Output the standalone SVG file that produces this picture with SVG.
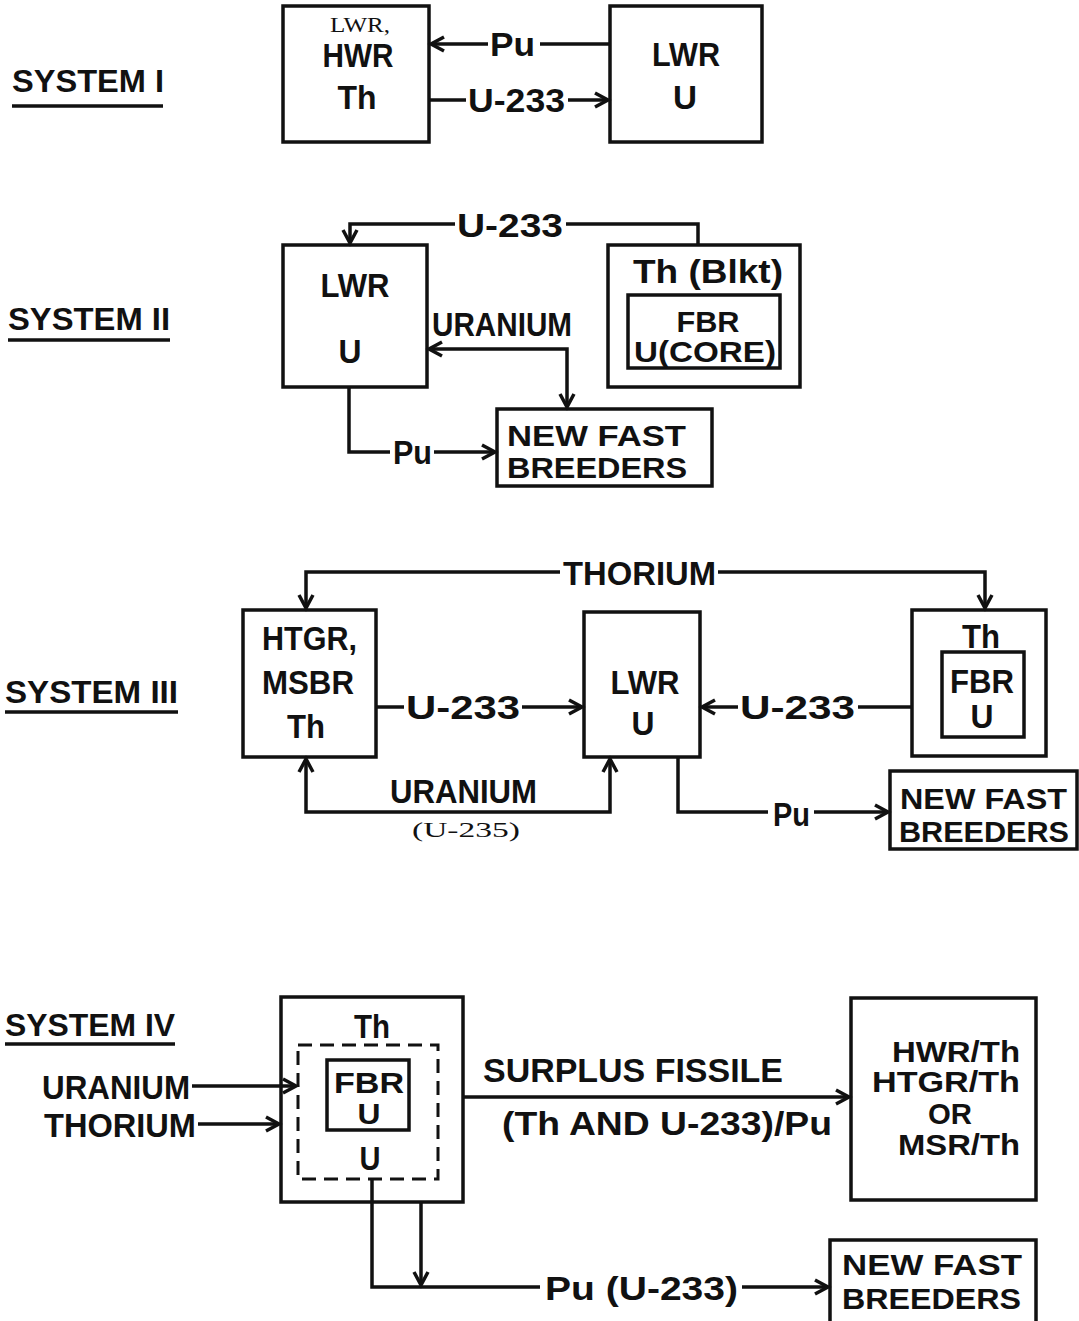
<svg xmlns="http://www.w3.org/2000/svg" width="1079" height="1321" viewBox="0 0 1079 1321">
<defs>
<style>
.b{fill:none;stroke:#111;stroke-width:3.5}
.d{fill:none;stroke:#111;stroke-width:3;stroke-dasharray:14 8}
.c{fill:none;stroke:#111;stroke-width:3.5}
.t{font-family:"Liberation Sans",Arial,sans-serif;font-weight:bold;font-size:33px;fill:#111}
.n{font-size:30px}
.k{font-size:30px}
.h{font-size:31px}
.s{font-family:"Liberation Serif","Times New Roman",serif;font-size:22px;fill:#111}
.m{text-anchor:middle}
.u{stroke:#111;stroke-width:3.5}
</style>
<marker id="a" markerUnits="userSpaceOnUse" markerWidth="20" markerHeight="20" refX="16" refY="10" orient="auto-start-reverse">
<path d="M3,3 L16,10 L3,17" fill="none" stroke="#111" stroke-width="3.5"/>
</marker>
</defs>
<rect width="1079" height="1321" fill="#fff"/>

<g id="labels">
<text class="t h" x="12" y="92" textLength="152" lengthAdjust="spacingAndGlyphs">SYSTEM I</text>
<line class="u" x1="12" y1="106" x2="163" y2="106"/>
<text class="t h" x="8" y="330" textLength="162" lengthAdjust="spacingAndGlyphs">SYSTEM II</text>
<line class="u" x1="8" y1="340" x2="170" y2="340"/>
<text class="t h" x="5" y="703" textLength="173" lengthAdjust="spacingAndGlyphs">SYSTEM III</text>
<line class="u" x1="5" y1="712" x2="178" y2="712"/>
<text class="t h" x="5" y="1036" textLength="170" lengthAdjust="spacingAndGlyphs">SYSTEM IV</text>
<line class="u" x1="5" y1="1044" x2="175" y2="1044"/>
</g>

<!-- System I -->
<g id="s1-thbox">
<rect class="b" x="283" y="6" width="146" height="136"/>
<text class="s m" x="360" y="32" textLength="60" lengthAdjust="spacingAndGlyphs">LWR,</text>
<text class="t m" x="358" y="67" textLength="71" lengthAdjust="spacingAndGlyphs">HWR</text>
<text class="t m" x="357" y="109" textLength="39" lengthAdjust="spacingAndGlyphs">Th</text>
</g>
<g id="s1-lwr">
<rect class="b" x="610" y="6" width="152" height="136"/>
<text class="t m" x="686" y="66" textLength="68" lengthAdjust="spacingAndGlyphs">LWR</text>
<text class="t m" x="685" y="109" textLength="24" lengthAdjust="spacingAndGlyphs">U</text>
</g>

<!-- System II -->
<g id="s2-lwr">
<rect class="b" x="283" y="245" width="144" height="142"/>
<text class="t m" x="355" y="297" textLength="69" lengthAdjust="spacingAndGlyphs">LWR</text>
<text class="t m" x="350" y="363" textLength="23" lengthAdjust="spacingAndGlyphs">U</text>
</g>
<g id="s2-fbr">
<rect class="b" x="608" y="245" width="192" height="142"/>
<text class="t" x="633" y="283" textLength="150" lengthAdjust="spacingAndGlyphs">Th (Blkt)</text>
<rect class="b" x="628" y="295" width="152" height="73"/>
<text class="t k m" x="708" y="332" textLength="63" lengthAdjust="spacingAndGlyphs">FBR</text>
<text class="t k" x="634" y="362" textLength="142" lengthAdjust="spacingAndGlyphs">U(CORE)</text>
</g>
<g id="s2-nfb">
<rect class="b" x="497" y="409" width="215" height="77"/>
<text class="t n" x="507" y="446" textLength="179" lengthAdjust="spacingAndGlyphs">NEW FAST</text>
<text class="t n" x="507" y="478" textLength="180" lengthAdjust="spacingAndGlyphs">BREEDERS</text>
</g>

<!-- System III -->
<g id="s3-htgr">
<rect class="b" x="243" y="610" width="133" height="147"/>
<text class="t" x="262" y="650" textLength="95" lengthAdjust="spacingAndGlyphs">HTGR,</text>
<text class="t" x="262" y="694" textLength="92" lengthAdjust="spacingAndGlyphs">MSBR</text>
<text class="t m" x="306" y="738" textLength="38" lengthAdjust="spacingAndGlyphs">Th</text>
</g>
<g id="s3-lwr">
<rect class="b" x="584" y="612" width="116" height="145"/>
<text class="t m" x="645" y="694" textLength="69" lengthAdjust="spacingAndGlyphs">LWR</text>
<text class="t m" x="643" y="735" textLength="23" lengthAdjust="spacingAndGlyphs">U</text>
</g>
<g id="s3-fbr">
<rect class="b" x="912" y="610" width="134" height="146"/>
<text class="t m" x="981" y="648" textLength="38" lengthAdjust="spacingAndGlyphs">Th</text>
<rect class="b" x="942" y="652" width="82" height="85"/>
<text class="t m" x="982" y="693" textLength="64" lengthAdjust="spacingAndGlyphs">FBR</text>
<text class="t m" x="982" y="728" textLength="23" lengthAdjust="spacingAndGlyphs">U</text>
</g>
<g id="s3-nfb">
<rect class="b" x="890" y="771" width="187" height="78"/>
<text class="t n" x="900" y="809" textLength="167" lengthAdjust="spacingAndGlyphs">NEW FAST</text>
<text class="t n" x="899" y="842" textLength="170" lengthAdjust="spacingAndGlyphs">BREEDERS</text>
</g>

<!-- System IV -->
<g id="s4-fbr">
<rect class="b" x="281" y="997" width="182" height="205"/>
<text class="t m" x="372" y="1038" textLength="36" lengthAdjust="spacingAndGlyphs">Th</text>
<rect class="d" x="298" y="1045" width="140" height="134"/>
<rect class="b" x="327" y="1060" width="82" height="70"/>
<text class="t k m" x="369" y="1093" textLength="70" lengthAdjust="spacingAndGlyphs">FBR</text>
<text class="t k m" x="369" y="1124" textLength="23" lengthAdjust="spacingAndGlyphs">U</text>
<text class="t m" x="370" y="1170" textLength="21" lengthAdjust="spacingAndGlyphs">U</text>
</g>
<g id="s4-th">
<rect class="b" x="851" y="998" width="185" height="202"/>
<text class="t k" x="892" y="1062" textLength="128" lengthAdjust="spacingAndGlyphs">HWR/Th</text>
<text class="t k" x="872" y="1092" textLength="148" lengthAdjust="spacingAndGlyphs">HTGR/Th</text>
<text class="t k m" x="950" y="1124" textLength="44" lengthAdjust="spacingAndGlyphs">OR</text>
<text class="t k" x="898" y="1155" textLength="122" lengthAdjust="spacingAndGlyphs">MSR/Th</text>
</g>
<g id="s4-nfb">
<rect class="b" x="830" y="1240" width="206" height="90"/>
<text class="t n" x="842" y="1275" textLength="180" lengthAdjust="spacingAndGlyphs">NEW FAST</text>
<text class="t n" x="842" y="1309" textLength="179" lengthAdjust="spacingAndGlyphs">BREEDERS</text>
</g>

<g id="connectors">
<!-- System I -->
<path class="c" d="M610,44 H540"/>
<path class="c" d="M488,44 H431" marker-end="url(#a)"/>
<text class="t" x="490" y="56" textLength="45" lengthAdjust="spacingAndGlyphs">Pu</text>
<path class="c" d="M429,100 H466"/>
<path class="c" d="M568,100 H608" marker-end="url(#a)"/>
<text class="t" x="468" y="112" textLength="97" lengthAdjust="spacingAndGlyphs">U-233</text>
<!-- System II -->
<path class="c" d="M698,245 V224 H566"/>
<path class="c" d="M455,224 H350 V243" marker-end="url(#a)"/>
<text class="t" x="457" y="237" textLength="106" lengthAdjust="spacingAndGlyphs">U-233</text>
<path class="c" d="M429,349 H567 V407" marker-start="url(#a)" marker-end="url(#a)"/>
<text class="t" x="432" y="336" textLength="140" lengthAdjust="spacingAndGlyphs">URANIUM</text>
<path class="c" d="M349,387 V452 H390"/>
<path class="c" d="M434,452 H495" marker-end="url(#a)"/>
<text class="t" x="393" y="464" textLength="39" lengthAdjust="spacingAndGlyphs">Pu</text>
<!-- System III -->
<path class="c" d="M560,572 H306 V608" marker-end="url(#a)"/>
<path class="c" d="M718,572 H985 V608" marker-end="url(#a)"/>
<text class="t" x="563" y="585" textLength="153" lengthAdjust="spacingAndGlyphs">THORIUM</text>
<path class="c" d="M376,707 H404"/>
<path class="c" d="M522,707 H582" marker-end="url(#a)"/>
<text class="t" x="406" y="719" textLength="114" lengthAdjust="spacingAndGlyphs">U-233</text>
<path class="c" d="M912,707 H858"/>
<path class="c" d="M738,707 H702" marker-end="url(#a)"/>
<text class="t" x="740" y="719" textLength="115" lengthAdjust="spacingAndGlyphs">U-233</text>
<path class="c" d="M306,759 V812 H610 V759" marker-start="url(#a)" marker-end="url(#a)"/>
<text class="t" x="390" y="803" textLength="147" lengthAdjust="spacingAndGlyphs">URANIUM</text>
<text class="s" x="412" y="837" textLength="108" lengthAdjust="spacingAndGlyphs">(U-235)</text>
<path class="c" d="M678,757 V812 H768"/>
<path class="c" d="M814,812 H888" marker-end="url(#a)"/>
<text class="t" x="773" y="826" textLength="37" lengthAdjust="spacingAndGlyphs">Pu</text>
<!-- System IV -->
<text class="t" x="42" y="1099" textLength="148" lengthAdjust="spacingAndGlyphs">URANIUM</text>
<path class="c" d="M192,1086 H296" marker-end="url(#a)"/>
<text class="t" x="44" y="1137" textLength="152" lengthAdjust="spacingAndGlyphs">THORIUM</text>
<path class="c" d="M198,1124 H279" marker-end="url(#a)"/>
<path class="c" d="M463,1097 H849" marker-end="url(#a)"/>
<text class="t" x="483" y="1082" textLength="300" lengthAdjust="spacingAndGlyphs">SURPLUS FISSILE</text>
<text class="t" x="502" y="1135" textLength="330" lengthAdjust="spacingAndGlyphs">(Th AND U-233)/Pu</text>
<path class="c" d="M372,1179 V1287 H540"/>
<path class="c" d="M742,1287 H828" marker-end="url(#a)"/>
<path class="c" d="M421,1202 V1285" marker-end="url(#a)"/>
<text class="t" x="545" y="1300" textLength="193" lengthAdjust="spacingAndGlyphs">Pu (U-233)</text>
</g>
</svg>
